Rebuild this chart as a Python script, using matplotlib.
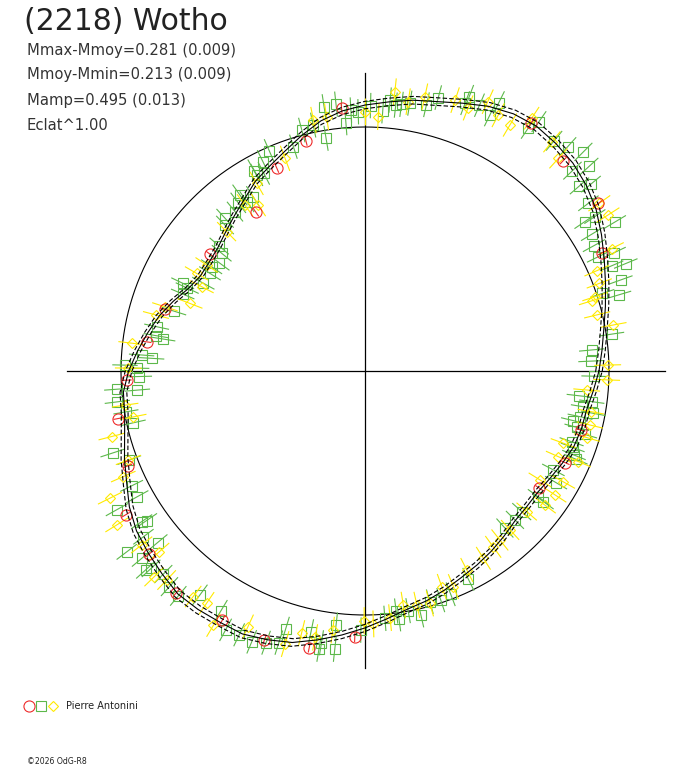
"""
Polar light curve of (2218) Wotho: radius = relative flux, angle = rotational phase.
"""
import numpy as np
import matplotlib
matplotlib.use('Agg')
import matplotlib.pyplot as plt
from matplotlib.collections import LineCollection

# ---- data -------------------------------------------------------------
TITLE = "(2218) Wotho"
INFO_LINES = ["Mmax-Mmoy=0.281 (0.009)",
              "Mmoy-Mmin=0.213 (0.009)",
              "Mamp=0.495 (0.013)",
              "Eclat^1.00"]
OBSERVER = "Pierre Antonini"
CREDIT = "\u00a92026 OdG-R8"

# fitted curve: relative flux every 5 deg of phase angle
curve_angle = np.arange(0, 360, 5)
curve_flux = [0.959, 0.975, 0.994, 1.020, 1.049, 1.082, 1.119, 1.156, 1.184, 1.205,
              1.217, 1.225, 1.217, 1.197, 1.168, 1.143, 1.127, 1.107, 1.090, 1.070,
              1.041, 1.000, 0.959, 0.926, 0.898, 0.861, 0.832, 0.807, 0.787, 0.779,
              0.779, 0.799, 0.836, 0.873, 0.904, 0.936, 0.969, 0.994, 1.000, 1.020,
              1.049, 1.078, 1.115, 1.143, 1.160, 1.176, 1.193, 1.193, 1.189, 1.189,
              1.172, 1.152, 1.119, 1.086, 1.053, 1.020, 0.992, 0.975, 0.955, 0.934,
              0.918, 0.902, 0.885, 0.869, 0.865, 0.865, 0.877, 0.893, 0.910, 0.918,
              0.922, 0.939]
curve_band = 0.014

# session 1 (red circles)
red_angle = [56.2, 46.7, 35.7, 26.5, -15.3, -24.6, -33.9, -119.8, -110.5, -101.4,
             -92.2, -177.8, -169.1, -158.2, -149.0, -139.7, -130.4, 113.5, 124.5,
             143.0, 162.9, 172.4, 95.1, 104.4]
red_flux = [1.221, 1.185, 1.178, 1.087, 0.916, 0.902, 0.861, 1.176, 1.177, 1.157,
            1.092, 0.977, 1.030, 1.048, 1.145, 1.160, 1.194, 0.906, 0.789,
            0.795, 0.858, 0.903, 1.081, 0.973]
red_err = 0.02

# session 2 (green squares)
green_angle = [69.2, 69.5, 66.7, 63.5, 64.0, 55.1, 56.1, 50.6, 47.9, 45.1,
               44.0, 42.4, 40.8, 39.6, 36.9, 33.9, 34.2, 30.8, 31.1, 28.7,
               26.1, 25.4, 23.1, 22.4, 19.6, 18.1, 16.7,
               8.5, 5.3, 2.5, -1.3, -6.6, -7.7, -9.3, -10.5, -12.0,
               -13.4, -14.9, -16.1, -18.9, -20.2, -21.9, -22.7, -27.7, -30.3, -36.2,
               -36.0, -41.9, -44.8, -48.3,
               -126.4, -121.0, -118.3, -115.5, -112.7, -110.0, -107.6, -107.1, -101.7, -99.4,
               -99.1, -96.5, -96.2, -90.9, -85.4, -82.6, -82.2, -79.8, -77.1, -74.3,
               -71.7, -69.0, -63.6,
               -175.8, -175.2, -172.9, -170.3, -167.4, -162.0, -159.3, -153.8, -151.1, -150.8,
               -146.0, -145.6, -143.2, -140.4, -142.8, -140.0, -137.8, -137.3, -134.8, -132.2,
               -129.7,
               113.5, 116.0, 119.0, 118.9, 117.1, 125.4, 122.7, 127.0, 124.9, 132.5,
               133.8, 129.2, 139.4, 140.6, 143.4, 145.8, 147.8, 151.5, 154.3, 155.0,
               157.1, 162.6, 168.0, 170.4, 171.0, 175.9, 176.6, 178.6, 179.3, -178.6,
               107.7, 104.7, 101.9, 99.5, 98.8, 96.2, 94.4, 93.1, 91.5, 88.8,
               86.1, 84.7, 83.4, 82.2, 80.5, 77.0, 75.0]
green_flux = [1.202, 1.172, 1.186, 1.229, 1.168, 1.246, 1.199, 1.221, 1.239, 1.268,
              1.182, 1.243, 1.161, 1.202, 1.145, 1.135, 1.090, 1.193, 1.086, 1.070,
              1.065, 1.131, 1.099, 1.156, 1.112, 1.023, 1.087,
              1.022, 0.933, 0.927, 0.939, 0.884, 0.938, 0.907, 0.952, 0.901,
              0.878, 0.898, 0.938, 0.895, 0.907, 0.923, 0.937, 0.872, 0.907, 0.906,
              0.877, 0.863, 0.866, 0.862,
              1.140, 1.147, 1.205, 1.198, 1.203, 1.185, 1.168, 1.106, 1.091, 1.156,
              1.128, 1.048, 1.147, 1.062, 1.017, 0.992, 1.025, 0.998, 1.026, 0.982,
              0.989, 0.980, 0.953,
              1.020, 0.936, 1.023, 0.994, 0.973, 1.088, 1.033, 1.066, 1.066, 1.165,
              1.104, 1.085, 1.134, 1.103, 1.226, 1.195, 1.214, 1.193, 1.173, 1.193,
              1.198,
              0.984, 0.955, 0.939, 0.918, 0.910, 0.885, 0.848, 0.863, 0.846, 0.849,
              0.829, 0.843, 0.787, 0.760, 0.744, 0.760, 0.751, 0.754, 0.829, 0.804,
              0.811, 0.820, 0.873, 0.869, 0.839, 0.918, 0.876, 0.984, 0.936, 0.925,
              0.965, 1.021, 1.030, 0.967, 1.096, 1.100, 1.021, 1.071, 1.063, 1.088,
              1.069, 1.115, 1.097, 1.103, 1.113, 1.120, 1.160]
green_err = 0.052

# session 3 (yellow diamonds)
yellow_angle = [71.6, 68.6, 65.5, 62.5, 59.5, 56.6, 50.8, 47.7, 35.6, 32.7,
                26.4, 23.4, 20.5, 17.9,
                17.2, 13.6, 10.5, 1.4, -2.1, -4.9, -10.2, -13.5, -16.7, -20.0,
                -23.0, -23.9, -29.2, -31.9, -33.1, -36.7, -41.0, -47.6, -51.4,
                -124.3, -120.8, -114.6, -106.3, -103.6, -100.6, -97.1, -90.2, -88.1, -84.2,
                -80.7, -77.5, -74.4, -70.4, -67.7, -62.9, -57.7, -53.9,
                -171.9, -168.8, -165.5, -159.4, -156.4, -153.5, -148.2, -142.1, -138.7, -135.7,
                -133.5, -127.3,
                110.6, 120.0, 122.7, 125.9, 134.8, 149.9, 146.2, 152.7, 158.9, 162.2,
                165.0, 173.2, 179.3,
                101.6, 98.6, 90.0, 87.0, 83.9, 80.9, 77.7]
yellow_flux = [1.170, 1.158, 1.213, 1.182, 1.170, 1.241, 1.212, 1.178, 1.181, 1.184,
               1.129, 1.035, 1.025, 0.991,
               0.973, 0.979, 1.035, 0.995, 0.991, 0.912, 0.940, 0.948, 0.949, 0.865,
               0.950, 0.866, 0.931, 0.845, 0.930, 0.920, 0.878, 0.882, 0.886,
               1.152, 1.213, 1.153, 1.166, 1.106, 1.111, 1.070, 1.023, 1.037, 1.016,
               0.972, 0.982, 0.989, 0.938, 0.955, 0.916, 0.908, 0.892,
               0.993, 0.968, 1.073, 1.036, 1.081, 1.168, 1.197, 1.160, 1.123, 1.208,
               1.181, 1.162,
               0.931, 0.888, 0.809, 0.839, 0.805, 0.798, 0.781, 0.753, 0.769, 0.861,
               0.887, 0.963, 0.970,
               1.050, 1.054, 1.063, 1.044, 1.151, 1.118, 1.151]
yellow_err = 0.055

RED = "#EE2A2A"
GREEN = "#5CB84A"
YELLOW = "#FFEA00"

# ---- layout (pixels of the 688x768 picture) ----------------------------
W, H = 688, 768
CX, CY = 365, 371          # centre of the diagram
R_PX = 244                 # radius of the mean-flux circle


def fx(px):
    return px / W


def fy(py):
    return 1 - py / H


def to_xy(angle_deg, flux):
    a = np.radians(np.asarray(angle_deg, dtype=float))
    f = np.asarray(flux, dtype=float)
    return f * np.cos(a), f * np.sin(a)


def radial_bars(angle_deg, flux, err):
    a = np.radians(np.asarray(angle_deg, dtype=float))
    f = np.asarray(flux, dtype=float)
    segs = []
    for ai, fi in zip(a, f):
        c, s = np.cos(ai), np.sin(ai)
        segs.append([((fi - err) * c, (fi - err) * s), ((fi + err) * c, (fi + err) * s)])
    return segs


fig = plt.figure(figsize=(W / 100, H / 100), dpi=100)
ax = fig.add_axes([0, 0, 1, 1])
ax.set_xlim(-CX / R_PX, (W - CX) / R_PX)
ax.set_ylim(-(H - CY) / R_PX, CY / R_PX)
ax.set_aspect("equal")
ax.axis("off")

# axes cross
ax.plot([-298 / R_PX, 300 / R_PX], [0, 0], color="black", lw=0.9)
ax.plot([0, 0], [-297 / R_PX, 298 / R_PX], color="black", lw=0.9)

# mean-flux circle
t = np.linspace(0, 2 * np.pi, 400)
ax.plot(np.cos(t), np.sin(t), color="black", lw=0.8)

# observations with radial error bars
MS = {"s": 6.8, "D": 5.6, "o": 8.0}
series = [
    (green_angle, green_flux, green_err, GREEN, "s"),
    (yellow_angle, yellow_flux, yellow_err, YELLOW, "D"),
    (red_angle, red_flux, red_err, RED, "o"),
]
for ang, flx, err, col, mk in series:
    ax.add_collection(LineCollection(radial_bars(ang, flx, err), colors=col, linewidths=0.8))
    x, y = to_xy(ang, flx)
    ax.plot(x, y, linestyle="none", marker=mk, markersize=MS[mk], markerfacecolor="none",
            markeredgecolor=col, markeredgewidth=0.8)

# fitted curve with its uncertainty band
ca = np.append(curve_angle, 360)
cf = np.append(curve_flux, curve_flux[0])
x, y = to_xy(ca, cf)
ax.plot(x, y, color="black", lw=0.8)
for k in (1 + curve_band, 1 - curve_band):
    x, y = to_xy(ca, cf * k)
    ax.plot(x, y, color="black", lw=0.8, dashes=(4, 2))

# texts
fam = ["DejaVu Sans"]
fig.text(fx(24), fy(21), TITLE, fontsize=21.5, family=fam, color="#222222",
         ha="left", va="center")
for i, line in enumerate(INFO_LINES):
    fig.text(fx(27), fy(50 + 25 * i), line, fontsize=10.6, family=fam, color="#333333",
             ha="left", va="center")

# observer legend
for px, mk, col in [(29, "o", RED), (41, "s", GREEN), (53, "D", YELLOW)]:
    ax.plot([fx(px)], [fy(706)], transform=fig.transFigure, marker=mk, markersize=MS[mk],
            markerfacecolor="none", markeredgecolor=col, markeredgewidth=0.8,
            clip_on=False)
fig.text(fx(66), fy(706), OBSERVER, fontsize=7, family=fam, color="#222222",
         ha="left", va="center")
fig.text(fx(27), fy(762), CREDIT, fontsize=5.6, family=fam, color="#222222",
         ha="left", va="center")

fig.savefig("out.png", dpi=100)
plt.close(fig)
